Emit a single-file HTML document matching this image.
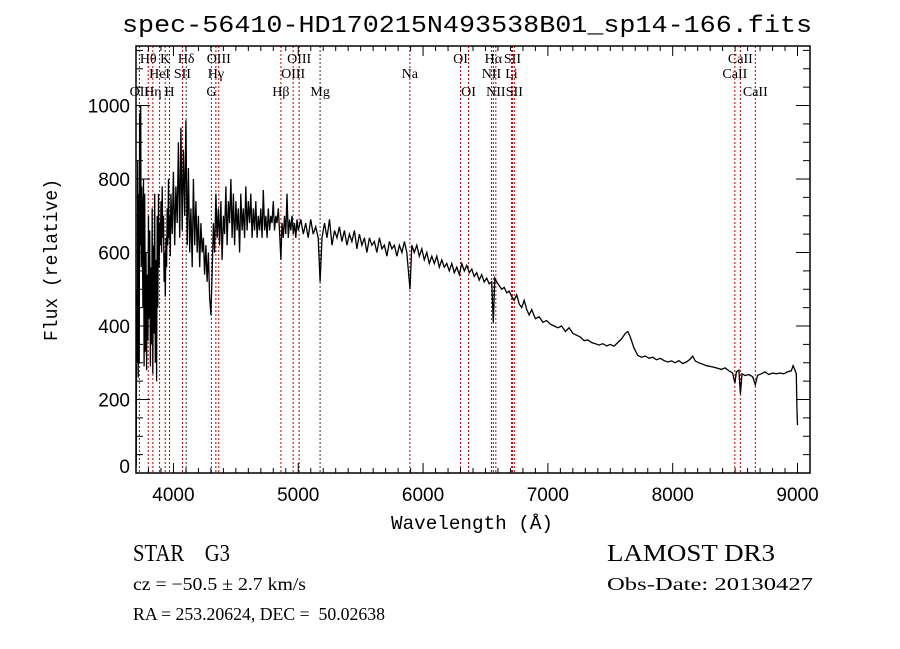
<!DOCTYPE html>
<html><head><meta charset="utf-8"><style>
html,body{margin:0;padding:0;background:#fff;}
svg{display:block;}
text{font-family:"Liberation Serif",serif;fill:#000;white-space:pre;}
.mono{font-family:"Liberation Mono",monospace;}
.sans{font-family:"Liberation Sans",sans-serif;}
</style></head><body>
<svg id="chart" width="900" height="649" viewBox="0 0 900 649" xmlns="http://www.w3.org/2000/svg" xml:space="preserve">
<rect width="900" height="649" fill="#fff"/>
<text class="mono" x="467" y="32" font-size="24" text-anchor="middle" textLength="690" lengthAdjust="spacingAndGlyphs">spec-56410-HD170215N493538B01_sp14-166.fits</text>
<g id="lines"></g>
<g id="labels"></g>
<g id="spec"></g>
<g id="axes"></g>
<text class="mono" x="472" y="529" font-size="19" text-anchor="middle" textLength="162" lengthAdjust="spacingAndGlyphs">Wavelength (Å)</text>
<text class="mono" transform="translate(57,260) rotate(-90)" font-size="19" text-anchor="middle" textLength="162" lengthAdjust="spacingAndGlyphs">Flux (relative)</text>
<text x="133" y="561" font-size="24" textLength="97" lengthAdjust="spacingAndGlyphs">STAR    G3</text>
<text x="607" y="561" font-size="24" textLength="168" lengthAdjust="spacingAndGlyphs">LAMOST DR3</text>
<text x="133" y="590" font-size="18" textLength="173" lengthAdjust="spacingAndGlyphs">cz = −50.5 ± 2.7 km/s</text>
<text x="607" y="590" font-size="18" textLength="206" lengthAdjust="spacingAndGlyphs">Obs-Date: 20130427</text>
<text x="133" y="620" font-size="18" textLength="252" lengthAdjust="spacingAndGlyphs">RA = 253.20624, DEC =  50.02638</text>
</svg>
<script>
const NS="http://www.w3.org/2000/svg";
const wave=[3702,3706,3710,3714,3718,3722,3726,3730,3734,3738,3742,3746,3750,3755,3760,3765,3770,3775,3780,3785,3790,3795,3800,3805,3810,3815,3820,3825,3830,3835,3840,3845,3850,3855,3860,3865,3870,3875,3880,3885,3890,3895,3900,3905,3910,3915,3920,3925,3930,3935,3940,3945,3950,3955,3960,3965,3970,3975,3980,3990,4000,4010,4020,4030,4040,4050,4060,4070,4080,4090,4100,4110,4120,4130,4140,4150,4160,4170,4180,4190,4200,4210,4220,4230,4240,4250,4260,4270,4280,4290,4300,4310,4320,4330,4340,4350,4360,4370,4380,4390,4400,4410,4420,4430,4440,4450,4460,4470,4480,4490,4500,4510,4520,4530,4540,4550,4560,4570,4580,4590,4600,4610,4620,4630,4640,4650,4660,4670,4680,4690,4700,4710,4720,4730,4740,4750,4760,4770,4780,4790,4800,4810,4820,4830,4840,4850,4861,4870,4880,4890,4900,4910,4920,4930,4940,4950,4960,4970,4980,4990,5000,5020,5040,5060,5080,5100,5120,5140,5160,5175,5190,5210,5230,5250,5270,5290,5310,5330,5350,5370,5390,5410,5430,5450,5470,5490,5510,5530,5550,5570,5590,5610,5630,5650,5670,5690,5710,5730,5750,5770,5790,5810,5830,5850,5870,5895,5910,5930,5950,5970,5990,6010,6030,6050,6070,6090,6110,6130,6150,6170,6190,6210,6230,6250,6270,6290,6310,6330,6350,6370,6390,6410,6430,6450,6470,6490,6510,6530,6550,6563,6575,6590,6610,6630,6650,6670,6690,6710,6730,6750,6770,6790,6810,6830,6850,6870,6900,6930,6960,6990,7020,7050,7080,7110,7140,7170,7200,7230,7260,7290,7320,7350,7380,7410,7440,7470,7500,7530,7560,7590,7620,7640,7660,7690,7720,7750,7780,7810,7840,7870,7900,7930,7960,7990,8020,8050,8080,8110,8140,8160,8180,8210,8240,8270,8300,8330,8360,8390,8420,8450,8480,8498,8510,8530,8542,8555,8580,8610,8640,8662,8680,8710,8740,8770,8800,8830,8860,8890,8920,8950,8965,8980,8990,8995,9000];
const flux=[20,500,300,850,260,760,300,980,620,1000,560,780,720,450,800,290,760,330,600,280,540,360,700,420,660,290,560,350,720,270,620,380,760,300,580,250,700,450,760,560,680,620,740,600,780,640,700,520,600,480,640,560,720,620,800,640,700,590,760,650,820,620,780,680,900,640,940,660,880,700,960,620,830,600,720,560,800,620,740,600,700,560,680,600,640,540,620,520,600,480,430,540,680,600,760,640,720,620,740,580,700,650,780,620,740,680,800,640,760,620,740,660,720,600,760,660,720,640,780,660,740,680,760,640,720,660,740,640,700,660,720,640,770,660,700,640,720,660,700,680,740,660,700,680,720,660,580,680,640,700,650,760,640,690,660,700,650,680,640,690,660,690,650,680,640,690,650,670,640,520,640,680,640,690,620,660,640,670,630,660,620,650,630,660,610,650,620,640,600,640,620,630,600,640,610,620,590,630,610,620,590,620,600,630,600,500,620,600,620,590,610,580,600,570,590,570,590,560,580,560,570,550,570,545,560,540,570,550,565,545,555,535,545,525,540,520,530,515,520,410,530,520,510,500,505,490,495,480,470,485,460,450,470,445,430,445,420,425,410,415,405,400,395,400,385,395,380,375,370,360,362,355,352,348,352,346,350,345,355,365,380,385,370,340,320,315,318,312,315,308,312,306,302,305,300,306,298,302,310,318,305,300,296,292,290,288,285,282,286,278,272,245,275,280,215,270,265,268,262,240,266,270,275,268,272,270,272,270,275,278,292,280,270,180,130];
const lineWaves=[3727,3798,3835,3889,3934,3968,4072,4102,4304,4340,4363,4861,4959,5007,5175,5894,6300,6364,6548,6563,6583,6708,6716,6731,8498,8542,8662];
const lineNames=["OII","Hθ","Hη","HeI","K","H","SII","Hδ","G","Hγ","OIII","Hβ","OIII","OIII","Mg","Na","OI","OI","NII","Hα","NII","Li","SII","SII","CaII","CaII","CaII"];
const lineRows=[2,0,2,1,0,2,1,0,2,1,0,2,1,0,2,1,0,2,1,0,2,1,0,2,1,0,2];
const xTicks=[4000,5000,6000,7000,8000,9000];
const yTicks=[0,200,400,600,800,1000];

const X0=136,X1=810,Y0=46,Y1=473,WMIN=3700,WMAX=9100,FMIN=0,FMAX=1162;
function xs(w){return X0+(w-WMIN)/(WMAX-WMIN)*(X1-X0);}
function ys(f){return Y1-(f-FMIN)/(FMAX-FMIN)*(Y1-Y0);}
function mk(tag,attrs,parent){const e=document.createElementNS(NS,tag);for(const k in attrs)e.setAttribute(k,attrs[k]);parent.appendChild(e);return e;}

const gL=document.getElementById('lines');
const gLab=document.getElementById('labels');
const rowY=[63,78,96];
lineWaves.forEach((w,i)=>{
  const x=xs(w);
  const l=mk('line',{x1:x,x2:x,y1:Y0,y2:Y1,stroke:(lineNames[i]==="Mg"||lineNames[i]==="Hδ")?"#333":"#c00000","stroke-width":1,"stroke-dasharray":"2,2"},gL);
  
  
  const t=mk('text',{x:x,y:rowY[lineRows[i]],"font-size":14,"text-anchor":"middle"},gLab);
  t.textContent=lineNames[i];
  
  
});

const gS=document.getElementById('spec');
let pts=[];
wave.forEach((w,i)=>{pts.push(xs(w).toFixed(1)+","+ys(flux[i]).toFixed(1));});
const pl=mk('polyline',{points:pts.join(" "),fill:"none",stroke:"#000","stroke-width":1.3},gS);



const gA=document.getElementById('axes');
const fr=mk('rect',{x:X0,y:Y0,width:X1-X0,height:Y1-Y0,fill:"none",stroke:"#000","stroke-width":1.5},gA);


for(let w=3700;w<=9100;w+=100){
  const x=xs(w);const major=(w%1000===0);const len=major?10:5;
  mk('line',{x1:x,x2:x,y1:Y1,y2:Y1-len,stroke:"#000"},gA);
  mk('line',{x1:x,x2:x,y1:Y0,y2:Y0+len,stroke:"#000"},gA);
}
xTicks.forEach(v=>{
  const t=mk('text',{x:xs(v),y:Y1+28,"font-size":19,"text-anchor":"middle",class:"sans"},gA);
  t.textContent=v;
  
  
});
for(let f=0;f<=1150;f+=50){
  const y=ys(f);const major=(f%200===0);const len=major?14:7;
  mk('line',{x1:X0,x2:X0+len,y1:y,y2:y,stroke:"#000"},gA);
  mk('line',{x1:X1,x2:X1-len,y1:y,y2:y,stroke:"#000"},gA);
}
yTicks.forEach(v=>{
  const t=mk('text',{x:X0-6,y:Math.min(ys(v)+7,Y1),"font-size":19,"text-anchor":"end",class:"sans"},gA);
  t.textContent=v;
  
  
});
</script>
</body></html>
